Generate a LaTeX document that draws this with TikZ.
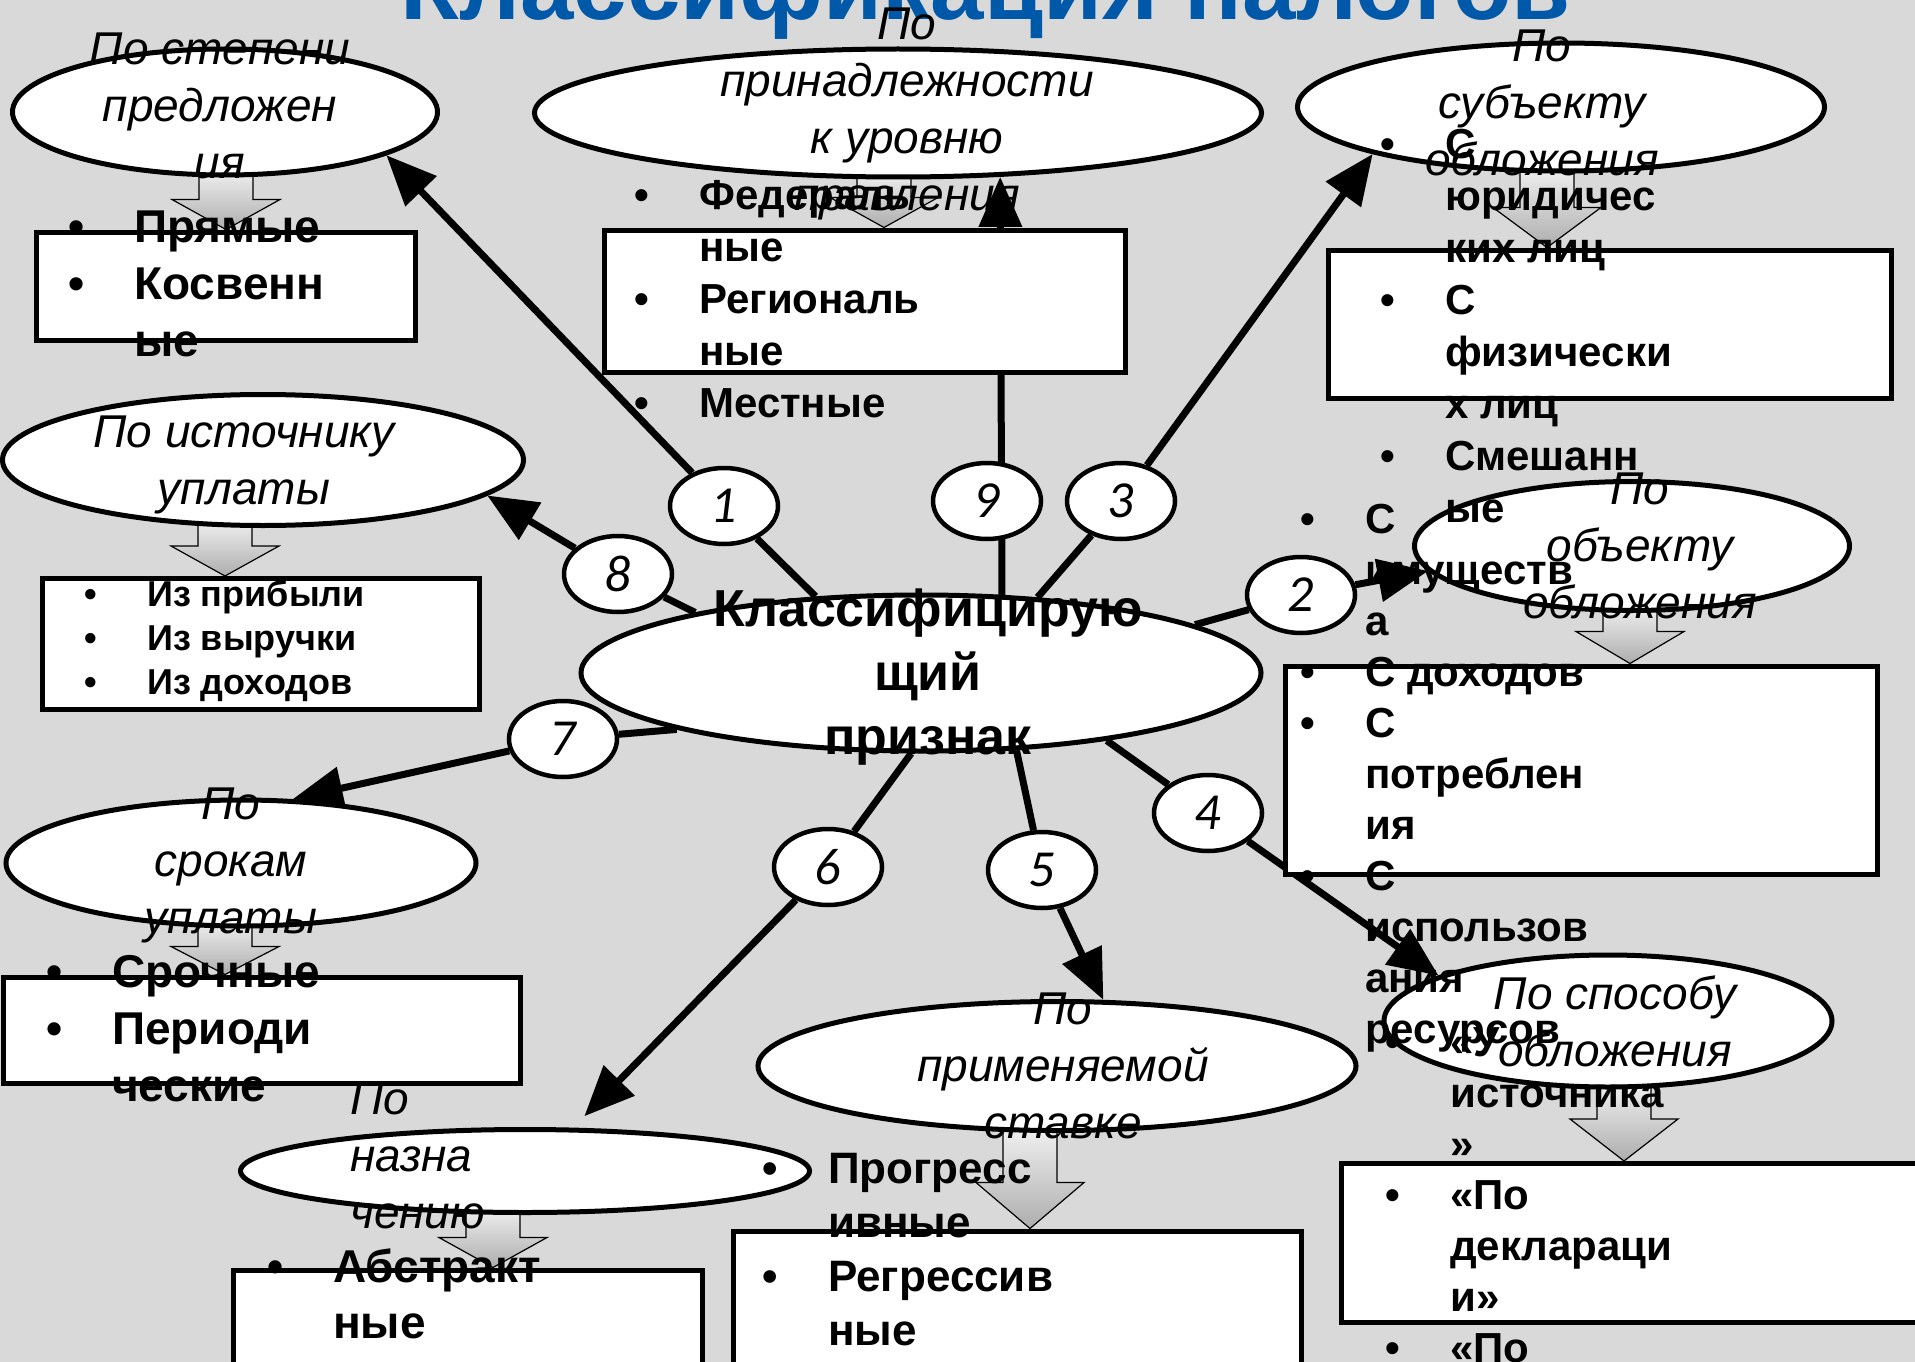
\documentclass[tikz,border=0pt]{standalone}
\usepackage{fontspec}
\setmainfont{Liberation Sans}
\newfontfamily\numfont{Carlito}
\usetikzlibrary{shapes.geometric}
\usetikzlibrary{arrows.meta}
\usetikzlibrary{calc}

\definecolor{slidegray}{RGB}{217,217,217}
\definecolor{titleblue}{RGB}{0,88,168}

\pgfdeclarelayer{slide}
\pgfdeclarelayer{links}
\pgfsetlayers{slide,links,main}

\newcommand{\itm}{\llap{\textbullet\hspace{50pt}}}
% hollow arrow from an oval down to its list
\newcommand{\blockdown}[4]{%
  \path[blockarrow] let \p1=(#2.south), \p2=(#3.north) in
    (#1pt-27pt,\y1+12pt) -- (#1pt+27pt,\y1+12pt) -- (#1pt+27pt,\y2+#4pt)
    -- (#1pt+54pt,\y2+#4pt) -- (#1pt,\y2) -- (#1pt-54pt,\y2+#4pt)
    -- (#1pt-27pt,\y2+#4pt) -- cycle;}

\begin{document}
\begin{tikzpicture}[x=1pt,y=-1pt,
  oval/.style={ellipse, draw, fill=white, line width=5pt, inner sep=0pt},
  listbox/.style={rectangle, draw, fill=white, line width=5pt, inner sep=0pt},
  num/.style={ellipse, draw, fill=white, line width=4.5pt, inner sep=0pt,
    minimum width=108pt, minimum height=76pt,
    font=\numfont\itshape\fontsize{52}{60}\selectfont},
  link/.style={line width=7pt},
  arr/.style={line width=7pt, -{Triangle[length=50pt,width=42pt]}},
  blockarrow/.style={draw, line width=1.2pt, top color=black!4, bottom color=black!32},
  crit/.style={inner sep=0pt, align=center, font=\itshape\fontsize{46}{57}\selectfont},
  items/.style 2 args={anchor=west, inner sep=0pt, align=left,
    font=\bfseries\fontsize{#1}{#2}\selectfont}]

\useasboundingbox (0,0) rectangle (1915,1362);
\begin{pgfonlayer}{slide}
  \fill[slidegray] (0,0) rectangle (1915,1362);
\end{pgfonlayer}

\node[anchor=base, inner sep=0pt, text=titleblue,
  font=\bfseries\fontsize{96}{104}\selectfont] (Title) at (986,20) {Классификация налогов};

% centre and the nine criteria
\node[oval, minimum width=680pt, minimum height=156pt] (Priznak) at (921,673) {};
\node[oval, minimum width=425pt, minimum height=126pt] (Stepen) at (225,112) {};
\node[oval, minimum width=727pt, minimum height=128pt] (Uroven) at (898,113) {};
\node[oval, minimum width=527pt, minimum height=128pt] (Subjekt) at (1561,107) {};
\node[oval, minimum width=435pt, minimum height=129pt] (Objekt) at (1632,546) {};
\node[oval, minimum width=598pt, minimum height=129pt] (Stavka) at (1057,1066) {};
\node[oval, minimum width=569pt, minimum height=83pt] (Naznach) at (525,1171) {};
\node[oval, minimum width=470pt, minimum height=126pt] (Sroki) at (241,863) {};
\node[oval, minimum width=521pt, minimum height=131pt] (Istochnik) at (263,460) {};
\node[oval, minimum width=448pt, minimum height=132pt] (Sposob) at (1608,1021) {};

% lists
\node[listbox, minimum width=379pt, minimum height=108pt] (StepenList) at (226,286) {};
\node[listbox, minimum width=521pt, minimum height=142pt] (UrovenList) at (865,301) {};
\node[listbox, minimum width=563pt, minimum height=148pt] (SubjektList) at (1610,324) {};
\node[listbox, minimum width=592pt, minimum height=208pt] (ObjektList) at (1581,770) {};
\node[listbox, minimum width=568pt, minimum height=170pt] (StavkaList) at (1017,1316) {};
\node[listbox, minimum width=469pt, minimum height=150pt] (NaznachList) at (468,1345) {};
\node[listbox, minimum width=517pt, minimum height=106pt] (SrokiList) at (262,1030) {};
\node[listbox, minimum width=437pt, minimum height=131pt] (IstochnikList) at (261,644) {};
\node[listbox, minimum width=584pt, minimum height=159pt] (SposobList) at (1633,1243) {};

% numbers
\node[num] (N1) at (724,506) {1};
\node[num] (N2) at (1301,595) {2};
\node[num] (N3) at (1121,501) {3};
\node[num] (N4) at (1208,813) {4};
\node[num] (N5) at (1042,870) {5};
\node[num] (N6) at (828,867) {6};
\node[num] (N7) at (563,739) {7};
\node[num] (N8) at (618,574) {8};
\node[num] (N9) at (987,501) {9};

\begin{pgfonlayer}{links}
  \draw[link] (Priznak.144) -- (N1); \draw[arr] (N1) -- (Stepen.-15);
  \draw[link] (Priznak.10) -- (N2);  \draw[arr] (N2) -- (Objekt.187);
  \draw[link] (Priznak.33) -- (N3);  \draw[arr] (N3) -- (Subjekt.194);
  \draw[link] (Priznak.-20) -- (N4); \draw[arr] (N4) -- (Sposob.165);
  \draw[link] (Priznak.-39) -- (N5); \draw[arr] (N5) -- (Stavka.55);
  \draw[link] (Priznak.-97) -- (N6); \draw[arr, shorten >=16pt] (N6) -- (Naznach.42);
  \draw[link] (Priznak.193) -- (N7); \draw[arr] (N7) -- (Sroki.51);
  \draw[link] (Priznak.165) -- (N8); \draw[arr] (N8) -- (Istochnik.-9);
  \draw[arr] (Priznak.44) -- (Uroven.-32);
  \blockdown{226}{Stepen}{StepenList}{30}
  \blockdown{884}{Uroven}{UrovenList}{30}
  \blockdown{1547}{Subjekt}{SubjektList}{40}
  \blockdown{1630}{Objekt}{ObjektList}{32}
  \blockdown{1030}{Stavka}{StavkaList}{46}
  \blockdown{493}{Naznach}{NaznachList}{30}
  \blockdown{225}{Sroki}{SrokiList}{28}
  \blockdown{225}{Istochnik}{IstochnikList}{30}
  \blockdown{1624}{Sposob}{SposobList}{42}
\end{pgfonlayer}

% texts on top
\node[inner sep=0pt, align=center, font=\bfseries\fontsize{52}{64}\selectfont]
  (PriznakText) at (928,677) {Классифицирую\\ щий\\ признак};
\node[crit] (StepenText) at (220,106) {По степени\\ предложен\\ ия};
\node[crit] (UrovenText) at (907,114) {По\\ принадлежности\\ к уровню\\ правления};
\node[crit] (SubjektText) at (1542,103) {По\\ субъекту\\ обложения};
\node[crit] (ObjektText) at (1640,546) {По\\ объекту\\ обложения};
\node[crit] (StavkaText) at (1063,1066) {По\\ применяемой\\ ставке};
\node[crit, anchor=west, align=left] (NaznachText) at (350,1156) {По\\ назна\\ чению};
\node[crit] (SrokiText) at (231,865) {По\\ срокам\\ уплаты};
\node[crit] (IstochnikText) at (244,465) {По источнику\\ уплаты};
\node[crit] (SposobText) at (1615,1021) {По способу\\ обложения};

\node[items={46}{57}] (StepenItems) at (134,284) {\itm Прямые\\ \itm Косвенн\\ ые};
\node[items={42}{52}] (UrovenItems) at (699,299)
  {\itm Федераль\\ ные\\ \itm Региональ\\ ные\\ \itm Местные};
\node[items={42}{52}] (SubjektItems) at (1445,326)
  {\itm С\\ юридичес\\ ких лиц\\ \itm С\\ физически\\ х лиц\\ \itm Смешанн\\ ые};
\node[items={42}{51}] (ObjektItems) at (1365,778)
  {\itm С\\ имуществ\\ а\\ \itm С доходов\\ \itm С\\ потреблен\\ ия\\ \itm С\\ использов\\ ания\\ ресурсов};
\node[items={44}{54}] (StavkaItems) at (828,1250) {\itm Прогресс\\ ивные\\ \itm Регрессив\\ ные};
\node[items={46}{56}] (NaznachItems) at (333,1294) {\itm Абстракт\\ ные};
\node[items={46}{57}] (SrokiItems) at (112,1029) {\itm Срочные\\ \itm Периоди\\ ческие};
\node[items={36}{44}] (IstochnikItems) at (147,641) {\itm Из прибыли\\ \itm Из выручки\\ \itm Из доходов};
\node[items={42}{51}] (SposobItems) at (1450,1195)
  {\itm «У\\ источника\\ »\\ \itm «По\\ деклараци\\ и»\\ \itm «По};
\end{tikzpicture}
\end{document}
